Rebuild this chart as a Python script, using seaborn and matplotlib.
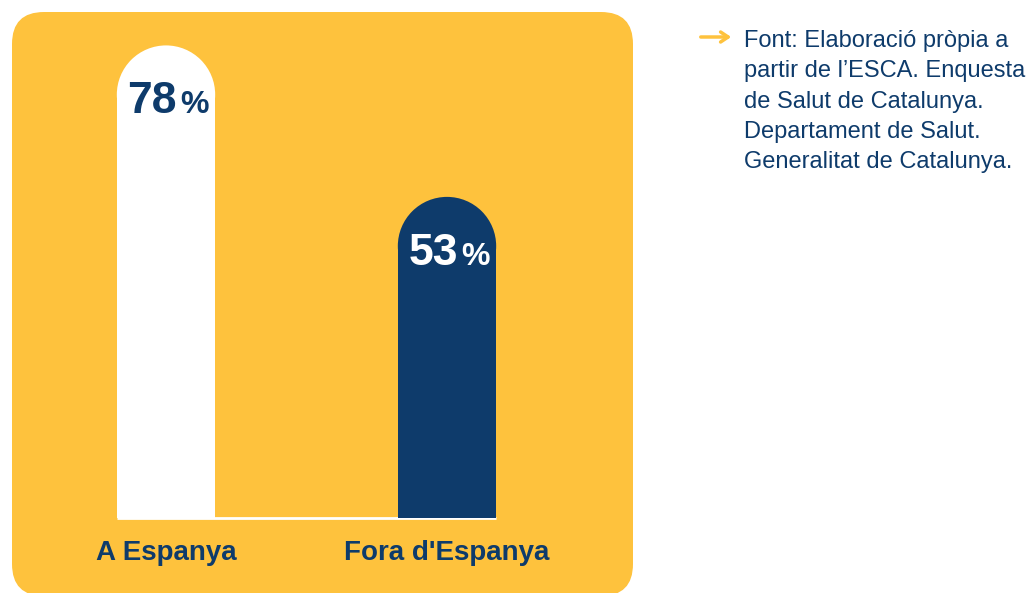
import matplotlib
matplotlib.use("Agg")
from matplotlib import pyplot as plt
from matplotlib.patches import FancyBboxPatch, Ellipse
import seaborn as sns
import numpy as np

categories = ["A Espanya", "Fora d'Espanya"]
values = [78, 53]
value_labels = ["78", "53"]
source_text = ("Font: Elaboració pròpia a\n"
               "partir de l’ESCA. Enquesta\n"
               "de Salut de Catalunya.\n"
               "Departament de Salut.\n"
               "Generalitat de Catalunya.")

YELLOW = "#FEC23D"
NAVY = "#0E3B6B"
WHITE = "#FFFFFF"

sns.set_theme(style="white")
plt.rcParams["font.family"] = ["Liberation Sans", "DejaVu Sans"]

W, H = 1036, 593
fig = plt.figure(figsize=(W / 100, H / 100), dpi=100)
fig.patch.set_facecolor("white")

# fons groc arrodonit (coordenades en píxels)
bg = fig.add_axes([0, 0, 1, 1])
bg.set_xlim(0, W)
bg.set_ylim(H, 0)
bg.axis("off")
bg.add_patch(FancyBboxPatch((12, 12), 621, 584, boxstyle="round,pad=0,rounding_size=32",
                            facecolor=YELLOW, edgecolor="none"))

# eixos del gràfic de barres
ax = fig.add_axes([25.5 / W, 75 / H, 562 / W, 515 / H])
ax.set_facecolor("none")
sns.barplot(x=categories, y=values, hue=categories, palette=[WHITE, NAVY],
            width=0.35, legend=False, ax=ax, saturation=1)
ax.set_xlim(-0.5, 1.5)
ax.set_ylim(0, 85)
sns.despine(ax=ax, left=True, bottom=True)
ax.set_yticks([])
ax.set_xlabel("")
ax.set_ylabel("")

# barres amb la part superior arrodonida
p0 = ax.transData.transform((0, 0))
p1 = ax.transData.transform((1, 1))
px_x, px_y = p1[0] - p0[0], p1[1] - p0[1]
for patch in ax.patches:
    x, w, h = patch.get_x(), patch.get_width(), patch.get_height()
    r_y = (w * px_x / 2) / px_y
    patch.set_height(h - r_y)
    patch.set_edgecolor("none")
    patch.set_zorder(3)
    ax.add_patch(Ellipse((x + w / 2, h - r_y), w, 2 * r_y, facecolor=patch.get_facecolor(),
                         edgecolor="none", zorder=3))

# línia base blanca
left = min(p.get_x() for p in ax.patches[:2])
right = max(p.get_x() + p.get_width() for p in ax.patches[:2])
ax.plot([left, right], [0, 0], color=WHITE, lw=2, zorder=2, clip_on=False,
        solid_capstyle="butt")

# etiquetes de valor
for i, (v, lab) in enumerate(zip(values, value_labels)):
    col = NAVY if i == 0 else WHITE
    ax.annotate(lab, xy=(i, v), xytext=(11 * 0.72, -68 * 0.72), textcoords="offset points",
                ha="right", va="baseline", fontsize=32, fontweight="bold", color=col)
    ax.annotate("%", xy=(i, v), xytext=(14 * 0.72, -68 * 0.72), textcoords="offset points",
                ha="left", va="baseline", fontsize=23, fontweight="semibold", color=col)

ax.set_xticks(range(len(categories)))
ax.set_xticklabels(categories, fontsize=20, fontweight="bold", color=NAVY)
ax.tick_params(axis="x", length=0, pad=16)

# font de les dades
bg.annotate("", xy=(734, 37), xytext=(698, 37),
            arrowprops=dict(arrowstyle="->,head_length=0.45,head_width=0.3", color=YELLOW, lw=2.5))
bg.text(744, 30, source_text, ha="left", va="top", fontsize=17, color=NAVY, linespacing=1.49)

fig.savefig("out.png", dpi=100)
